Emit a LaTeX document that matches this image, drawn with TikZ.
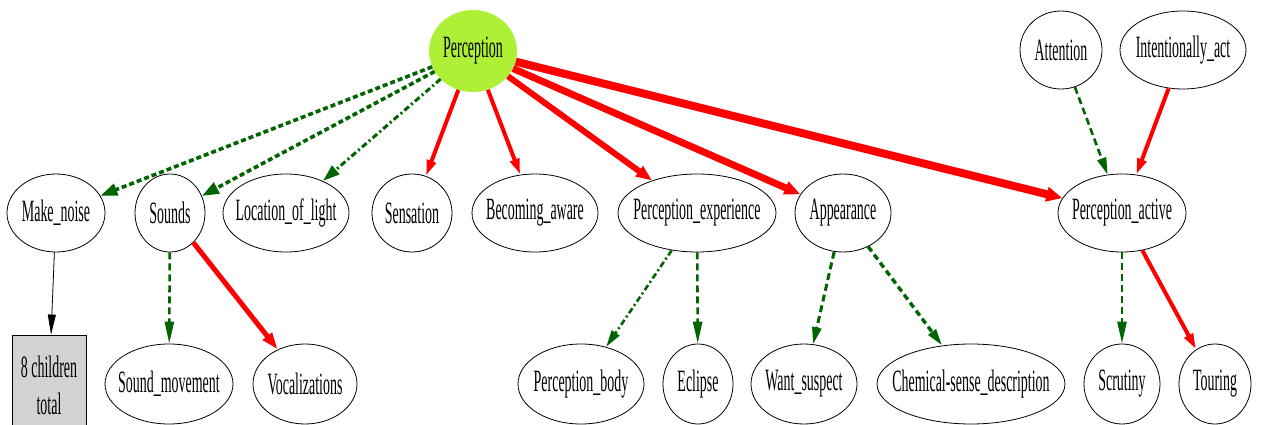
\documentclass[tikz,border=0pt]{standalone}
\usepackage{fontspec}
\usetikzlibrary{shapes.geometric,arrows.meta}
\newfontfamily\lblfont[FakeStretch=0.45]{Liberation Serif}
\definecolor{dkgreen}{HTML}{006400}
\definecolor{percfill}{HTML}{AEF035}
\definecolor{boxgray}{HTML}{D3D3D3}
\newcommand{\nodetext}[1]{\makebox[0pt]{#1}}
\tikzset{
  every node/.style={font=\lblfont\fontsize{31pt}{37pt}\selectfont},
  nd/.style={ellipse, draw=black, line width=0.8pt, inner sep=0pt, minimum height=78pt},
  gedge/.style={draw=dkgreen, line width=2.6pt, dash pattern=on 7pt off 4pt,
    -{Triangle[length=17pt,width=9pt]}},
  gbold/.style={gedge, line width=3.6pt, dash pattern=on 5pt off 3pt,
    -{Triangle[length=17pt,width=12pt]}},
  gdot/.style={gedge, line width=3pt, dash pattern=on 6pt off 3pt on 2pt off 3pt,
    -{Triangle[length=17pt,width=11pt]}},
  redge/.style={draw=red, line width=4pt, -{Triangle[length=16pt,width=9pt]}},
  kedge/.style={draw=black, line width=0.8pt, -{Triangle[length=20pt,width=8pt]}}
}
\begin{document}
\begin{tikzpicture}[x=1pt,y=-1pt]
\useasboundingbox (0,0) rectangle (1261,425);

% top row
\node[ellipse, fill=percfill, inner sep=0pt, minimum width=88pt, minimum height=82pt] (per) at (473,51) {\nodetext{Perception}};
\node[nd, minimum width=82pt] (att) at (1061,50) {\nodetext{Attention}};
\node[nd, minimum width=126pt] (ia) at (1183,50) {\nodetext{Intentionally\_act}};

% middle row
\node[nd, minimum width=98pt] (mn) at (56,213) {\nodetext{Make\_noise}};
\node[nd, minimum width=70pt] (snd) at (170,213) {\nodetext{Sounds}};
\node[nd, minimum width=126pt] (lol) at (286,213) {\nodetext{Location\_of\_light}};
\node[nd, minimum width=80pt] (sens) at (412,213) {\nodetext{Sensation}};
\node[nd, minimum width=126pt] (ba) at (535,213) {\nodetext{Becoming\_aware}};
\node[nd, minimum width=158pt] (pe) at (697,213) {\nodetext{Perception\_experience}};
\node[nd, minimum width=96pt] (app) at (843,213) {\nodetext{Appearance}};
\node[nd, minimum width=128pt] (pa) at (1122,213) {\nodetext{Perception\_active}};

% bottom row
\node[draw=black, fill=boxgray, line width=0.8pt, minimum width=74pt, minimum height=100pt, inner sep=0pt, align=center] (kids) at (49,385) {8 children\\total};
\node[nd, minimum width=128pt, minimum height=80pt] (sm) at (169,384) {\nodetext{Sound\_movement}};
\node[nd, minimum width=104pt, minimum height=80pt] (voc) at (305,384) {\nodetext{Vocalizations}};
\node[nd, minimum width=126pt, minimum height=80pt] (pb) at (581,384) {\nodetext{Perception\_body}};
\node[nd, minimum width=70pt, minimum height=80pt] (ecl) at (698,384) {\nodetext{Eclipse}};
\node[nd, minimum width=106pt, minimum height=80pt] (ws) at (804,384) {\nodetext{Want\_suspect}};
\node[nd, minimum width=188pt, minimum height=80pt] (csd) at (971,384) {\nodetext{Chemical-sense\_description}};
\node[nd, minimum width=76pt, minimum height=80pt] (scr) at (1122,384) {\nodetext{Scrutiny}};
\node[nd, minimum width=72pt, minimum height=80pt] (tour) at (1215,384) {\nodetext{Touring}};

% edges out of Perception
\draw[gbold] (per) -- (mn);
\draw[gbold] (per) -- (snd);
\draw[gdot] (per) -- (lol);
\draw[redge] (per) -- (sens);
\draw[redge] (per) -- (ba);
\draw[redge, line width=6pt, -{Triangle[length=16pt,width=12pt]}] (per) -- (pe);
\draw[redge, line width=7pt, -{Triangle[length=16pt,width=13pt]}] (per) -- (app);
\draw[redge, line width=8pt, -{Triangle[length=16pt,width=14pt]}] (per) -- (pa);

% remaining edges
\draw[kedge] (mn) -- (kids);
\draw[gedge, -{Triangle[length=22pt,width=9pt]}] (snd) -- (sm);
\draw[redge, line width=5pt, -{Triangle[length=17pt,width=11pt]}] (snd) -- (voc);
\draw[gdot, line width=2.6pt, -{Triangle[length=17pt,width=9pt]}] (pe) -- (pb);
\draw[gedge, -{Triangle[length=22pt,width=9pt]}] (pe) -- (ecl);
\draw[gedge, line width=3pt] (app) -- (ws);
\draw[gedge, line width=3.4pt, dash pattern=on 6pt off 4pt] (app) -- (csd);
\draw[gedge] (att) -- (pa);
\draw[redge] (ia) -- (pa);
\draw[gedge, -{Triangle[length=22pt,width=9pt]}] (pa) -- (scr);
\draw[redge] (pa) -- (tour);
\end{tikzpicture}
\end{document}
